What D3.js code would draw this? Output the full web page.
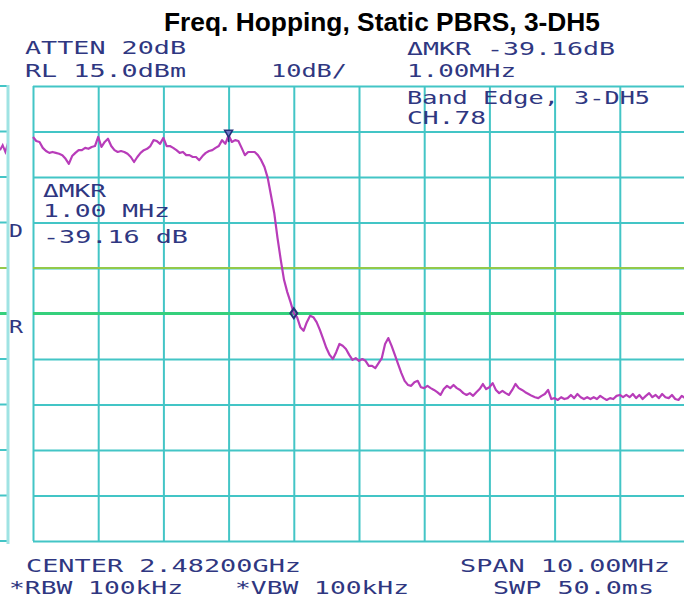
<!DOCTYPE html>
<html>
<head>
<meta charset="utf-8">
<script src="https://cdn.jsdelivr.net/npm/d3@7"></script>
<style>
  html, body { margin: 0; padding: 0; background: #ffffff; }
  svg { display: block; }
  .scr { font-family: "DejaVu Sans Mono", monospace; font-size: 18px; fill: #2f3781; }
</style>
</head>
<body>
<svg id="chart" width="684" height="598"></svg>
<script>
// Sweep settings: center 2.482 GHz, span 10 MHz, reference level 15 dBm, 10 dB/div
const spanStartMHz = 2477;
const spanStopMHz = 2487;
const refLevelDbm = 15;
const bottomLevelDbm = -85;
const sweepStepMHz = 0.05;

// Trace amplitude (dBm) at each sweep point, 2477.00 .. 2487.00 MHz
const traceLevels = [
  3.8, 2.9, 2.7, 1.4, 0.7, 0.3, 0.5, 0.3, 0.1, -0.2,
  -1.0, -2.1, -0.4, 0.3, 0.9, 0.9, 1.4, 1.2, 1.6, 1.8,
  3.8, 1.6, 2.7, 3.4, 1.8, 0.9, 0.5, 0.7, 0.5, 0.1,
  -0.6, -1.7, -0.6, 0.3, 0.9, 1.2, 1.8, 3.1, 2.9, 2.3,
  3.6, 1.8, 1.8, 1.4, 0.9, 0.3, 0.5, -0.2, -0.2, -0.6,
  -0.6, -1.3, -0.4, 0.3, 0.7, 0.9, 1.4, 1.8, 3.1, 2.3,
  4.2, 2.7, 3.1, 2.9, 1.4, -0.2, 0.5, 0.5, 0.5, -0.2,
  -1.3, -2.8, -5.2, -9.0, -12.9, -18.4, -23.2, -27.6, -30.3, -32.5,
  -34.96, -35.8, -38.0, -38.8, -36.9, -35.5, -35.8, -36.9, -38.6, -40.6,
  -42.6, -44.1, -45.0, -43.5, -41.7, -42.1, -42.8, -44.1, -45.2, -44.8,
  -45.4, -45.0, -45.4, -46.5, -46.5, -47.0, -45.9, -44.8, -41.7, -40.4,
  -42.1, -44.1, -46.1, -48.1, -49.8, -50.7, -50.9, -50.1, -49.8, -51.2,
  -51.4, -50.9, -51.4, -51.8, -52.3, -52.9, -51.6, -50.9, -51.4, -50.7,
  -51.4, -51.8, -52.5, -52.9, -52.5, -53.1, -52.3, -51.6, -50.5, -51.6,
  -51.2, -50.3, -51.8, -52.5, -52.0, -52.5, -52.9, -51.8, -50.5, -51.4,
  -51.8, -52.3, -52.7, -53.1, -53.4, -53.6, -53.1, -52.7, -51.8, -53.8,
  -53.6, -54.0, -53.4, -53.8, -53.6, -52.9, -53.6, -52.7, -53.4, -53.8,
  -53.4, -53.8, -53.4, -53.8, -53.1, -53.6, -54.0, -53.6, -53.8, -53.1,
  -52.9, -53.4, -52.9, -53.4, -52.7, -53.6, -52.9, -53.8, -53.1, -52.5,
  -53.4, -52.9, -53.6, -52.7, -53.4, -53.6, -52.9, -53.8, -54.0, -53.1,
  -53.6
];

// End of the neighbouring screen's trace, visible at the far left
const neighbourTailLevels = [0.9, 2.0, 0.5, 2.5];

// Markers: reference marker and delta marker (MHz)
const markerFreqsMHz = [2480.0, 2481.0];

// Display lines (dBm)
const displayLines = [
  { level: -25, color: "#93c94a", width: 2 },
  { level: -35, color: "#35d07c", width: 3 }
];

// Screen annotations
const screenTexts = [
  { t: "ATTEN 20dB",        x: 25,  y: 54,  w: 161 },
  { t: "RL 15.0dBm",        x: 25,  y: 77,  w: 161 },
  { t: "10dB/",             x: 271, y: 77,  w: 76 },
  { t: "\u0394MKR -39.16dB", x: 407, y: 55,  w: 208 },
  { t: "1.00MHz",           x: 407, y: 77,  w: 109 },
  { t: "Band Edge, 3-DH5",  x: 407, y: 104, w: 243 },
  { t: "CH.78",             x: 407, y: 124, w: 79 },
  { t: "\u0394MKR",          x: 43,  y: 197, w: 63 },
  { t: "1.00 MHz",          x: 43,  y: 217, w: 127 },
  { t: "-39.16 dB",         x: 43,  y: 243, w: 145 },
  { t: "D",                 x: 9,   y: 237, w: 14 },
  { t: "R",                 x: 9,   y: 333, w: 14 },
  { t: "CENTER 2.48200GHz", x: 26,  y: 572, w: 275 },
  { t: "SPAN 10.00MHz",     x: 460, y: 572, w: 210 },
  { t: "*RBW 100kHz",       x: 9,   y: 594, w: 174 },
  { t: "*VBW 100kHz",       x: 235, y: 594, w: 174 },
  { t: "SWP 50.0ms",        x: 493, y: 594, w: 161 }
];

const titleText = "Freq. Hopping, Static PBRS, 3-DH5";

// ---- layout ----
const svg = d3.select("#chart");
const plot = { left: 33, right: 685, top: 86, bottom: 541 };
const gridColor = "#43c5c6";

const x = d3.scaleLinear().domain([spanStartMHz, spanStopMHz]).range([plot.left, plot.right]);
const y = d3.scaleLinear().domain([bottomLevelDbm, refLevelDbm]).range([plot.bottom, plot.top]);

const xGridValues = d3.range(spanStartMHz, spanStopMHz + 0.001, 1);
const yGridValues = d3.range(bottomLevelDbm, refLevelDbm + 0.001, 10);

// Title
svg.append("text")
  .attr("x", 164).attr("y", 31)
  .attr("font-family", "Liberation Sans, Arial, sans-serif")
  .attr("font-weight", "bold")
  .attr("font-size", 26)
  .attr("textLength", 436)
  .attr("lengthAdjust", "spacingAndGlyphs")
  .attr("fill", "#000")
  .text(titleText);

// Neighbouring screen strip on the left edge
const stripX = d3.scaleLinear().domain([0, neighbourTailLevels.length - 1]).range([0, 8]);
const strip = svg.append("g");
strip.selectAll("line.h")
  .data(yGridValues)
  .join("line")
  .attr("x1", 0).attr("x2", 8)
  .attr("y1", d => y(d)).attr("y2", d => y(d))
  .attr("stroke", gridColor).attr("stroke-width", 2);
strip.selectAll("line.d")
  .data(displayLines)
  .join("line")
  .attr("x1", 0).attr("x2", 8)
  .attr("y1", d => y(d.level)).attr("y2", d => y(d.level))
  .attr("stroke", d => d.color).attr("stroke-width", d => d.width);
strip.append("path")
  .datum(neighbourTailLevels)
  .attr("fill", "none")
  .attr("stroke", "#b83cb9").attr("stroke-width", 2)
  .attr("d", d3.line().x((d, i) => stripX(i)).y(d => y(d)));
strip.append("line")
  .attr("x1", 8).attr("x2", 8)
  .attr("y1", plot.top - 1).attr("y2", plot.bottom + 3)
  .attr("stroke", "#9fe3e3").attr("stroke-width", 3);

// Graticule from the axes
const gx = svg.append("g")
  .attr("transform", `translate(0,${plot.bottom})`)
  .call(d3.axisBottom(x).tickValues(xGridValues).tickSize(-(plot.bottom - plot.top)).tickFormat(""));
const gy = svg.append("g")
  .attr("transform", `translate(${plot.left},0)`)
  .call(d3.axisLeft(y).tickValues(yGridValues).tickSize(-(plot.right - plot.left)).tickFormat(""));
[gx, gy].forEach(g => {
  g.select(".domain").remove();
  g.selectAll(".tick line").attr("stroke", gridColor).attr("stroke-width", 2);
});

// Display lines
svg.selectAll("line.dl")
  .data(displayLines)
  .join("line")
  .attr("class", "dl")
  .attr("x1", plot.left).attr("x2", plot.right)
  .attr("y1", d => y(d.level)).attr("y2", d => y(d.level))
  .attr("stroke", d => d.color).attr("stroke-width", d => d.width);

// Trace
const traceFreq = i => spanStartMHz + i * sweepStepMHz;
svg.append("path")
  .datum(traceLevels)
  .attr("fill", "none")
  .attr("stroke", "#b83cb9")
  .attr("stroke-width", 2.2)
  .attr("stroke-linejoin", "round")
  .attr("d", d3.line().x((d, i) => x(traceFreq(i))).y(d => y(d)));

// Markers
const levelAt = f => traceLevels[Math.round((f - spanStartMHz) / sweepStepMHz)];
const mk = markerFreqsMHz.map(f => ({ px: x(f), py: y(levelAt(f)) }));
const markerColor = "#27307a";
// reference marker: inverted triangle sitting on the trace
svg.append("path")
  .attr("d", `M${mk[0].px - 4},${mk[0].py - 5} L${mk[0].px + 4},${mk[0].py - 5} L${mk[0].px},${mk[0].py + 2} Z`)
  .attr("fill", "#6f78c8").attr("stroke", markerColor).attr("stroke-width", 1.5);
svg.append("line")
  .attr("x1", mk[0].px).attr("x2", mk[0].px)
  .attr("y1", mk[0].py + 1).attr("y2", mk[0].py + 7)
  .attr("stroke", markerColor).attr("stroke-width", 1.5);
// delta marker: diamond on the trace
svg.append("path")
  .attr("d", `M${mk[1].px},${mk[1].py - 5} L${mk[1].px + 3.5},${mk[1].py} L${mk[1].px},${mk[1].py + 5} L${mk[1].px - 3.5},${mk[1].py} Z`)
  .attr("fill", "none").attr("stroke", markerColor).attr("stroke-width", 2);

// Screen annotations
svg.selectAll("text.scr")
  .data(screenTexts)
  .join("text")
  .attr("class", "scr")
  .attr("x", d => d.x).attr("y", d => d.y)
  .attr("textLength", d => d.w)
  .attr("lengthAdjust", "spacingAndGlyphs")
  .text(d => d.t);
</script>
</body>
</html>
